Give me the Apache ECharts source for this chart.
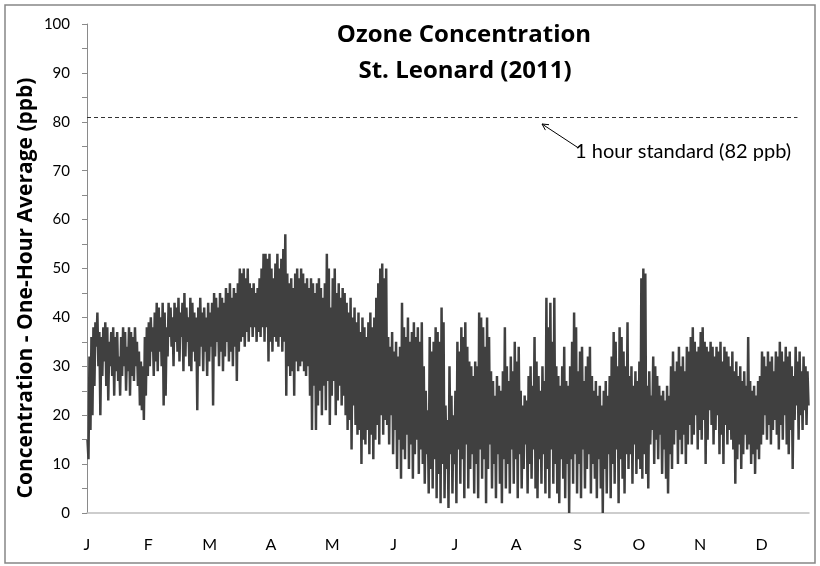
<!DOCTYPE html>
<html>
<head>
<meta charset="utf-8">
<script src="https://cdn.jsdelivr.net/npm/echarts@6/dist/echarts.min.js"></script>
<style>
  html, body { margin: 0; padding: 0; background: #fff; }
  #chart { width: 820px; height: 566px; }
</style>
</head>
<body>
<div id="chart"></div>
<script>
// month initials on the x axis (one label every 744 hours)
const monthLabels = ['J', 'F', 'M', 'A', 'M', 'J', 'J', 'A', 'S', 'O', 'N', 'D'];
const standardLevel = 81; // dashed "1 hour standard" line as drawn

// daily upper envelope of the hourly ozone trace (ppb), one row per month
const dailyHigh = [
  15,32,36,38,39,41,37,36,38,39,38,35,37,38,36,37,32,36,38,37,34,38,37,36,38,35,33,31,30,36,38,
  39,40,38,41,43,42,40,43,41,38,43,42,40,43,42,44,41,43,45,42,40,44,43,41,40,42,44,41,
  42,40,43,41,43,45,44,42,45,44,43,46,45,47,44,46,45,47,50,49,50,48,50,47,46,47,45,46,48,50,53,
  53,52,53,50,48,51,53,50,52,54,57,49,47,48,46,49,50,48,50,49,47,48,46,48,47,45,47,48,46,44,
  47,53,50,42,48,50,45,47,44,46,45,43,41,44,40,42,39,41,37,40,38,36,39,41,38,40,44,47,50,51,48,
  50,36,34,37,33,35,32,34,43,38,36,40,35,37,39,36,38,35,39,30,25,21,36,33,35,38,37,35,42,39,
  22,19,30,24,20,25,35,33,38,36,39,34,31,30,28,31,30,41,40,38,34,40,36,29,27,24,28,26,25,29,38,
  30,27,32,29,35,31,34,25,22,24,23,28,30,26,36,31,28,25,30,27,44,38,43,35,44,30,28,26,30,34,27,
  26,30,35,41,38,29,33,34,27,30,32,34,28,25,27,24,26,22,25,27,24,28,32,37,35,30,38,36,33,30,
  39,28,30,26,29,27,31,48,50,49,26,29,24,32,30,28,26,24,25,23,26,24,30,33,29,31,34,30,32,29,34,
  33,36,38,35,33,34,37,38,35,34,33,35,34,32,34,33,35,31,34,33,32,30,33,29,31,28,30,27,29,26,
  36,27,25,26,24,27,28,33,32,30,33,31,32,29,33,32,35,33,31,34,32,33,30,28,34,31,33,29,32,30,29
];

// daily lower envelope (ppb)
const dailyLow = [
  11,17,20,26,34,30,20,28,31,26,23,30,28,24,29,27,24,28,30,25,29,24,28,27,30,26,22,21,19,24,28,
  30,33,28,31,29,33,30,22,24,32,36,34,30,35,33,31,36,29,32,35,30,29,33,31,21,30,34,29,
  33,28,31,34,22,32,35,30,33,29,32,35,31,33,30,34,27,33,35,36,34,37,35,38,36,38,35,37,36,38,35,
  38,31,35,33,36,35,34,36,33,35,24,30,28,29,24,31,29,30,31,29,28,30,24,17,26,17,22,25,20,26,
  21,27,18,24,27,20,23,26,22,24,20,17,19,13,22,18,16,17,10,15,14,17,12,16,11,15,18,14,20,16,19,
  18,14,20,12,17,9,15,7,13,11,16,9,14,7,12,15,8,13,10,6,12,4,9,5,11,3,8,2,10,3,
  9,1,12,4,10,2,13,6,11,3,14,5,9,12,4,10,3,13,7,11,2,9,14,5,10,3,12,6,2,11,5,
  10,4,13,6,11,3,12,5,9,14,4,10,7,13,5,3,11,6,12,4,9,3,13,6,10,4,2,11,7,3,10,
  0,11,6,12,4,10,3,13,5,9,12,4,10,7,3,11,5,0,9,4,12,3,10,6,13,2,11,7,4,12,
  9,12,6,14,8,11,9,7,12,8,5,14,17,10,15,11,16,8,13,7,4,12,9,14,17,10,15,12,16,10,14,
  18,14,16,20,13,17,15,19,10,15,21,18,14,17,20,12,16,10,18,14,17,15,13,6,11,14,9,12,16,13,
  14,10,12,8,13,11,14,16,20,15,18,14,17,19,16,13,18,15,20,14,12,17,9,19,22,15,20,17,21,18,22
];

// hour of year for each value: high in the morning slot, low in the evening slot
const points = [];
dailyHigh.forEach((v, i) => {
  points.push([i * 24 + 6, v]);
  points.push([i * 24 + 18, dailyLow[i]]);
});

const labelFont = 'Lato, "Open Sans", sans-serif';
const boldFont = '"Open Sans", Lato, sans-serif';
const myChart = echarts.init(document.getElementById('chart'));
const option = {
  animation: false,
  backgroundColor: '#fff',
  grid: {
    left: 87,
    right: 11,
    top: 24,
    bottom: 53,
    outerBoundsMode: 'none'
  },
  xAxis: {
    type: 'value',
    min: 0,
    max: 8760,
    interval: 744,
    axisLine: { lineStyle: { color: '#bdbdbd', width: 1.5 } },
    axisTick: { show: false },
    splitLine: { show: false },
    axisLabel: {
      margin: 24,
      fontSize: 16,
      fontFamily: labelFont,
      color: '#000',
      showMaxLabel: false,
      formatter: function (value) {
        return value % 744 === 0 ? monthLabels[value / 744] : '';
      }
    }
  },
  yAxis: {
    type: 'value',
    min: 0,
    max: 100,
    interval: 5,
    axisLine: { show: true, lineStyle: { color: '#8a8a8a', width: 1 } },
    axisTick: { show: true, length: 5, lineStyle: { color: '#8a8a8a' } },
    splitLine: { show: false },
    axisLabel: {
      margin: 17,
      fontSize: 15,
      fontFamily: labelFont,
      color: '#000',
      formatter: function (value) {
        return value % 10 === 0 ? value : '';
      }
    }
  },
  series: [
    {
      type: 'line',
      data: points,
      showSymbol: false,
      sampling: null,
      lineStyle: { color: '#404040', width: 2.5 },
      markLine: {
        silent: true,
        symbol: 'none',
        label: { show: false },
        lineStyle: { color: '#333', width: 1, type: [4, 3] },
        data: [[{ xAxis: 0, yAxis: standardLevel }, { xAxis: 8620, yAxis: standardLevel }]]
      }
    }
  ],
  graphic: [
    {
      type: 'rect',
      shape: { x: 5, y: 5, width: 810, height: 558 },
      style: { fill: 'none', stroke: '#868686', lineWidth: 1.5 },
      silent: true
    },
    {
      type: 'text',
      x: 464, y: 35,
      style: {
        text: 'Ozone Concentration',
        font: 'bold 24px ' + boldFont,
        fill: '#000',
        align: 'center',
        verticalAlign: 'middle'
      }
    },
    {
      type: 'text',
      x: 465, y: 71,
      style: {
        text: 'St. Leonard (2011)',
        font: 'bold 24px ' + boldFont,
        fill: '#000',
        align: 'center',
        verticalAlign: 'middle'
      }
    },
    {
      type: 'text',
      x: 26, y: 288,
      rotation: Math.PI / 2,
      style: {
        text: 'Concentration - One-Hour Average (ppb)',
        font: 'bold 21px ' + boldFont,
        fill: '#000',
        align: 'center',
        verticalAlign: 'middle'
      }
    },
    {
      type: 'text',
      x: 575, y: 152,
      style: {
        text: '1 hour standard (82 ppb)',
        font: '20px ' + labelFont,
        fill: '#000',
        align: 'left',
        verticalAlign: 'middle'
      }
    },
    {
      type: 'polyline',
      shape: { points: [[577, 147], [542, 124]] },
      style: { stroke: '#000', lineWidth: 1, fill: 'none' }
    },
    {
      type: 'polyline',
      shape: { points: [[545.4, 130.1], [542, 124], [549, 124.7]] },
      style: { stroke: '#000', lineWidth: 1, fill: 'none' }
    }
  ]
};
myChart.setOption(option);
</script>
</body>
</html>
